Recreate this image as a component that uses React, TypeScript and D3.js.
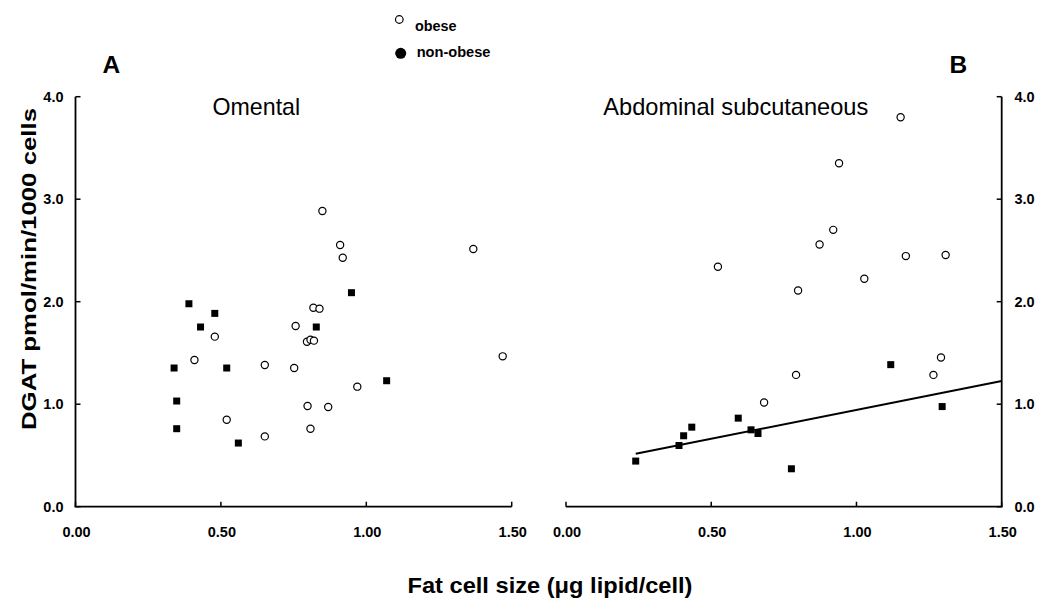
import React from "react";
import * as d3 from "d3";

// Panel A: Omental
const omObeseX = [0.849, 0.910, 0.919, 1.368, 0.818, 0.839, 0.757, 0.479, 0.796, 0.808, 0.820, 0.409, 0.651, 0.752, 1.469, 0.969, 0.798, 0.869, 0.520, 0.808, 0.651];
const omObeseY = [2.885, 2.553, 2.429, 2.514, 1.941, 1.932, 1.763, 1.659, 1.610, 1.629, 1.620, 1.431, 1.382, 1.353, 1.467, 1.171, 0.982, 0.972, 0.849, 0.761, 0.686];
const omNonX = [0.390, 0.479, 0.430, 0.949, 0.828, 0.339, 0.520, 1.070, 0.348, 0.348, 0.560];
const omNonY = [1.980, 1.886, 1.753, 2.088, 1.753, 1.353, 1.353, 1.229, 1.031, 0.761, 0.621];

// Panel B: Abdominal subcutaneous
const scObeseX = [1.152, 0.940, 0.920, 0.873, 0.523, 1.170, 1.307, 1.027, 0.799, 1.291, 0.792, 1.265, 0.682];
const scObeseY = [3.799, 3.351, 2.701, 2.558, 2.341, 2.445, 2.455, 2.224, 2.110, 1.455, 1.286, 1.286, 1.016];
const scNonX = [1.118, 1.295, 0.240, 0.389, 0.405, 0.433, 0.593, 0.637, 0.661, 0.776];
const scNonY = [1.386, 0.977, 0.445, 0.597, 0.692, 0.776, 0.864, 0.750, 0.714, 0.370];

// Regression line (panel B, non-obese)
const fitX = [0.24, 1.5];
const fitY = [0.516, 1.227];

const xTicks = [0, 0.5, 1.0, 1.5];
const yTicks = [0, 1, 2, 3, 4];

const FONT = "'Liberation Sans', Arial, Helvetica, sans-serif";

export default function App() {
  const y = d3.scaleLinear().domain([0, 4]).range([506.7, 96.7]);
  const xL = d3.scaleLinear().domain([0, 1.5]).range([75.5, 511.7]);
  const xR = d3.scaleLinear().domain([0, 1.5]).range([566, 1001.7]);
  const fx = d3.format(".2f");
  const fy = d3.format(".1f");
  const line = d3
    .line<number>()
    .x((d, i) => xR(fitX[i]))
    .y((d) => y(d));

  const sq = 7;
  const cr = 3.6;
  const axisW = 1.8;
  const tickLen = 5;

  const circles = (xs: number[], ys: number[], xs_: d3.ScaleLinear<number, number>, key: string) =>
    xs.map((v, i) => (
      <circle key={key + i} cx={xs_(v)} cy={y(ys[i])} r={cr} fill="white" stroke="black" strokeWidth={1.2} />
    ));
  const squares = (xs: number[], ys: number[], xs_: d3.ScaleLinear<number, number>, key: string) =>
    xs.map((v, i) => (
      <rect key={key + i} x={xs_(v) - sq / 2} y={y(ys[i]) - sq / 2} width={sq} height={sq} fill="black" />
    ));

  return (
    <svg
      width={1050}
      height={608}
      style={{ position: "absolute", left: 0, top: 0, background: "white" }}
      fontFamily={FONT}
    >
      <rect x={0} y={0} width={1050} height={608} fill="white" />

      {/* Legend */}
      <circle cx={399.3} cy={19.5} r={3.8} fill="white" stroke="black" strokeWidth={1.2} />
      <text x={415} y={30.7} fontSize={14.4} fontWeight="bold">obese</text>
      <circle cx={400.7} cy={53.3} r={5.5} fill="black" />
      <text x={416.7} y={57.3} fontSize={14.6} fontWeight="bold">non-obese</text>

      {/* Panel letters */}
      <text x={102.5} y={73} fontSize={24.5} fontWeight="bold">A</text>
      <text x={949.5} y={73} fontSize={24.5} fontWeight="bold">B</text>

      {/* Panel titles */}
      <text x={212.5} y={115} fontSize={23.2}>Omental</text>
      <text x={603.3} y={115} fontSize={23.6}>Abdominal subcutaneous</text>

      {/* Left axes */}
      <line x1={xL(0)} x2={xL(0)} y1={y(4)} y2={y(0)} stroke="black" strokeWidth={axisW} />
      <line x1={xL(0) - axisW / 2} x2={xL(1.5)} y1={y(0)} y2={y(0)} stroke="black" strokeWidth={axisW} />
      {yTicks.map((t) => (
        <g key={"ly" + t}>
          <line x1={xL(0)} x2={xL(0) + tickLen} y1={y(t)} y2={y(t)} stroke="black" strokeWidth={1.5} />
          <text x={63.5} y={y(t)} dy="0.36em" textAnchor="end" fontSize={14.5} fontWeight="bold">{fy(t)}</text>
        </g>
      ))}
      {xTicks.map((t) => (
        <g key={"lx" + t}>
          <line x1={xL(t)} x2={xL(t)} y1={y(0)} y2={y(0) - tickLen} stroke="black" strokeWidth={1.5} />
          <text x={xL(t) + 1} y={537} textAnchor="middle" fontSize={14.5} fontWeight="bold">{fx(t)}</text>
        </g>
      ))}

      {/* Right axes */}
      <line x1={xR(1.5)} x2={xR(1.5)} y1={y(4)} y2={y(0)} stroke="black" strokeWidth={axisW} />
      <line x1={xR(0)} x2={xR(1.5) + axisW / 2} y1={y(0)} y2={y(0)} stroke="black" strokeWidth={axisW} />
      {yTicks.map((t) => (
        <g key={"ry" + t}>
          <line x1={xR(1.5)} x2={xR(1.5) - tickLen} y1={y(t)} y2={y(t)} stroke="black" strokeWidth={1.5} />
          <text x={1014.5} y={y(t)} dy="0.36em" textAnchor="start" fontSize={14.5} fontWeight="bold">{fy(t)}</text>
        </g>
      ))}
      {xTicks.map((t) => (
        <g key={"rx" + t}>
          <line x1={xR(t)} x2={xR(t)} y1={y(0)} y2={y(0) - tickLen} stroke="black" strokeWidth={1.5} />
          <text x={xR(t) + 1} y={537} textAnchor="middle" fontSize={14.5} fontWeight="bold">{fx(t)}</text>
        </g>
      ))}

      {/* Data */}
      {circles(omObeseX, omObeseY, xL, "oo")}
      {squares(omNonX, omNonY, xL, "on")}
      <path d={line(fitY) || ""} fill="none" stroke="black" strokeWidth={2} />
      {circles(scObeseX, scObeseY, xR, "so")}
      {squares(scNonX, scNonY, xR, "sn")}

      {/* Axis titles */}
      <text
        transform={`translate(36,269) rotate(-90)`}
        textAnchor="middle"
        fontSize={20}
        fontWeight="bold"
        textLength={322}
        lengthAdjust="spacingAndGlyphs"
      >
        DGAT pmol/min/1000 cells
      </text>
      <text
        x={550}
        y={593}
        textAnchor="middle"
        fontSize={22}
        fontWeight="bold"
        textLength={285}
        lengthAdjust="spacingAndGlyphs"
      >
        Fat cell size (μg lipid/cell)
      </text>
    </svg>
  );
}
